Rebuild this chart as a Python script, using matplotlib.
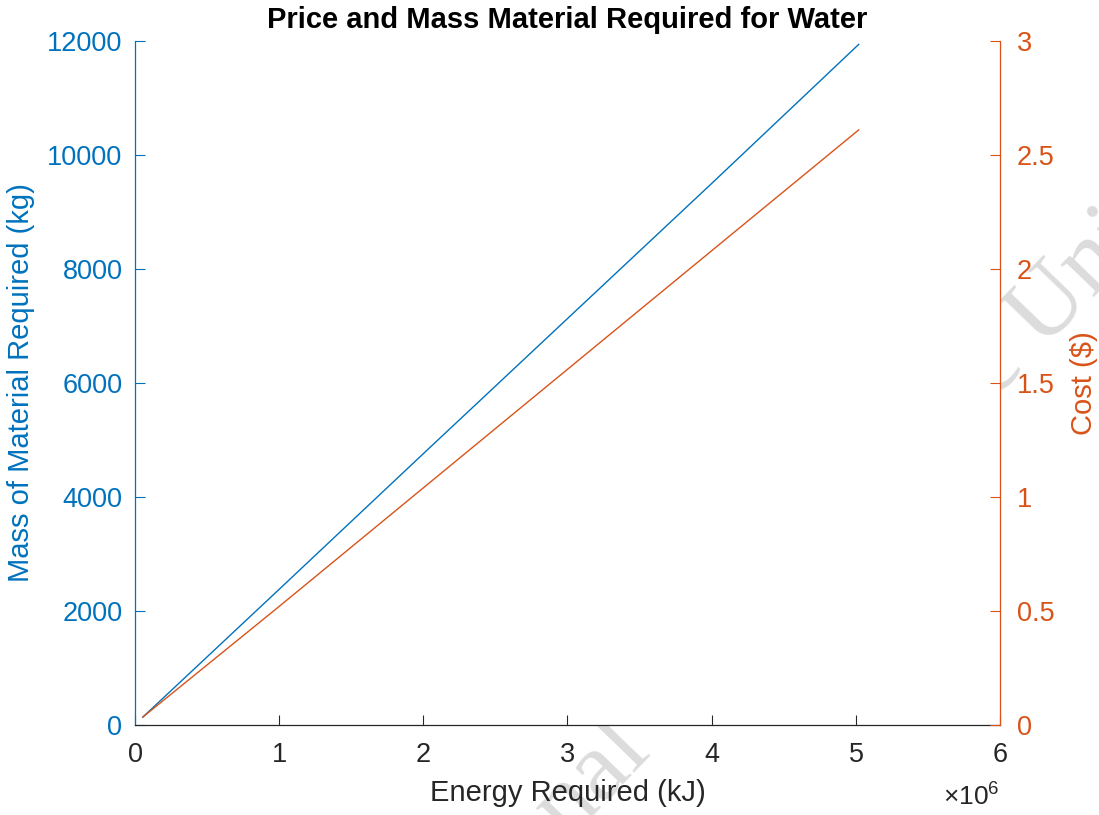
import matplotlib.pyplot as plt
from matplotlib.ticker import ScalarFormatter

plt.rcParams['font.family'] = ['Liberation Sans', 'DejaVu Sans']
plt.rcParams['mathtext.fontset'] = 'custom'
plt.rcParams['mathtext.rm'] = 'Liberation Sans'

# values
energy = [0.055e6, 1.0e6, 2.0e6, 3.0e6, 4.0e6, 5.02e6]   # kJ
mass = [140, 2380, 4760, 7130, 9500, 11940]              # kg
cost = [0.035, 0.52, 1.04, 1.56, 2.08, 2.61]             # $

blue = '#0072BD'
orange = '#D95319'
dark = '#262626'

fig = plt.figure(figsize=(10.99, 8.15), dpi=100)
ax = fig.add_axes([0.1228, 0.1104, 0.7871, 0.8393])
ax2 = ax.twinx()

# faint watermark behind the axes
fig.text(0.517, -0.033, 'nal Use of Basic University',
         rotation=46, rotation_mode='anchor', ha='left', va='baseline',
         fontsize=72, family='Liberation Serif', color='#dcdcdc', zorder=-5)

ax.plot(energy, mass, color=blue, lw=1.0)
ax2.plot(energy, cost, color=orange, lw=1.0)

ax.set_xlim(0, 6e6)
ax.set_ylim(0, 12000)
ax2.set_ylim(0, 3)
ax.set_xticks([0, 1e6, 2e6, 3e6, 4e6, 5e6, 6e6])
ax.set_yticks(range(0, 12001, 2000))
ax2.set_yticks([0, 0.5, 1, 1.5, 2, 2.5, 3])
ax2.set_yticklabels(['0', '0.5', '1', '1.5', '2', '2.5', '3'])

fmt = ScalarFormatter(useMathText=True)
fmt.set_powerlimits((0, 0))
ax.xaxis.set_major_formatter(fmt)
ax.xaxis.get_offset_text().set_visible(False)
ax.text(1.0, -0.085, r'$\times\mathdefault{10^{6}}$', transform=ax.transAxes,
        ha='right', va='top', fontsize=19, color=dark)

for a in (ax, ax2):
    a.spines['top'].set_visible(False)
    a.tick_params(direction='in', length=7, width=0.8, labelsize=19.5, pad=9)
ax.spines['left'].set_color(blue)
ax.spines['right'].set_visible(False)
ax.spines['bottom'].set_color(dark)
ax2.spines['right'].set_color(orange)
ax2.spines['left'].set_visible(False)
ax2.spines['bottom'].set_visible(False)
for s in ('left', 'bottom'):
    ax.spines[s].set_linewidth(0.9)
ax2.spines['right'].set_linewidth(0.9)

ax.tick_params(axis='x', colors=dark, pad=12)
ax.tick_params(axis='y', colors=blue)
ax2.tick_params(axis='y', colors=orange, pad=12)

ax.set_xlabel('Energy Required (kJ)', fontsize=21, color=dark, labelpad=8)
ax.set_ylabel('Mass of Material Required (kg)', fontsize=21, color=blue, labelpad=9)
ax2.set_ylabel('Cost (\\$)', fontsize=21, color=orange, labelpad=11)
ax.set_title('Price and Mass Material Required for Water', fontsize=21,
             fontweight='bold', pad=9)

fig.savefig('out.png', dpi=100)
